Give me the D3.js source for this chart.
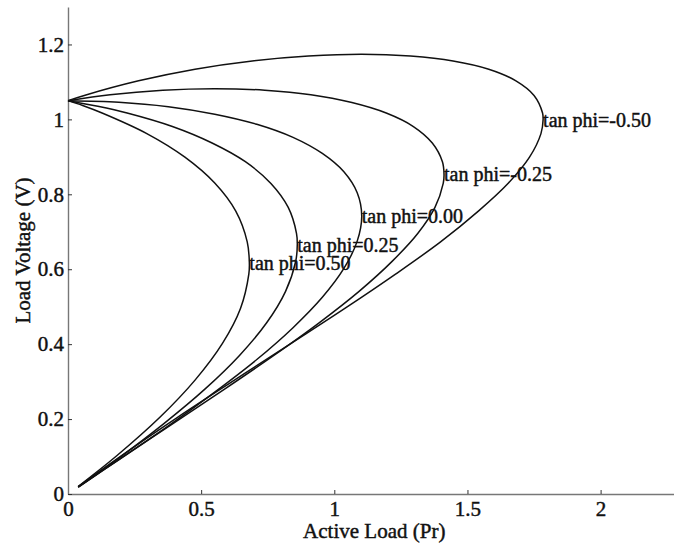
<!DOCTYPE html>
<html>
<head>
<meta charset="utf-8">
<script src="https://cdn.jsdelivr.net/npm/d3@7"></script>
<style>
  body { margin: 0; background: #fff; }
  svg text { font-family: "Liberation Serif", "Times New Roman", serif; fill: #111; stroke: #111; stroke-width: 0.45px; }
</style>
</head>
<body>
<svg id="chart" width="674" height="544"></svg>
<script>
// PV (nose) curves, one per load power factor, points read as [P, V]
const tanPhi = [0.5, 0.25, 0, -0.25, -0.5];
const labelText = ["tan phi=0.50", "tan phi=0.25", "tan phi=0.00", "tan phi=-0.25", "tan phi=-0.50"];

const curveTan050 = [[0.038,0.020],[0.183,0.102],[0.344,0.204],[0.477,0.304],[0.580,0.402],[0.648,0.496],[0.679,0.587],[0.681,0.617],[0.673,0.673],[0.630,0.755],[0.551,0.830],[0.439,0.899],[0.296,0.962],[0.128,1.017],[0.055,1.037],[0,1.05]];
const curveTan025 = [[0.038,0.019],[0.187,0.094],[0.360,0.188],[0.514,0.280],[0.644,0.370],[0.746,0.457],[0.817,0.541],[0.855,0.621],[0.861,0.666],[0.858,0.696],[0.827,0.765],[0.762,0.829],[0.666,0.887],[0.541,0.937],[0.392,0.981],[0.222,1.017],[0.112,1.035],[0,1.05]];
const curveTan000 = [[0.038,0.018],[0.191,0.092],[0.377,0.182],[0.551,0.272],[0.709,0.359],[0.845,0.444],[0.955,0.525],[1.036,0.602],[1.086,0.675],[1.103,0.742],[1.086,0.804],[1.036,0.860],[0.955,0.909],[0.845,0.952],[0.709,0.987],[0.551,1.014],[0.377,1.034],[0.191,1.046],[0,1.05]];
const curveTanM025 = [[0.039,0.019],[0.196,0.094],[0.394,0.188],[0.588,0.280],[0.773,0.370],[0.943,0.457],[1.093,0.541],[1.217,0.621],[1.314,0.696],[1.378,0.765],[1.409,0.829],[1.412,0.853],[1.406,0.887],[1.368,0.937],[1.297,0.981],[1.195,1.017],[1.066,1.045],[0.912,1.066],[0.739,1.078],[0.551,1.082],[0.356,1.078],[0.158,1.066],[0,1.05]];
const curveTanM050 = [[0.039,0.020],[0.200,0.102],[0.410,0.204],[0.625,0.304],[0.838,0.402],[1.041,0.496],[1.230,0.587],[1.399,0.673],[1.541,0.755],[1.654,0.830],[1.733,0.899],[1.776,0.962],[1.784,0.999],[1.782,1.017],[1.750,1.064],[1.682,1.103],[1.580,1.134],[1.446,1.156],[1.286,1.169],[1.103,1.174],[0.903,1.169],[0.692,1.156],[0.477,1.134],[0.265,1.103],[0.061,1.064],[0,1.05]];

// label anchors = nose point of each curve
const noseP = [0.681, 0.861, 1.103, 1.412, 1.784];
const noseV = [0.617, 0.666, 0.742, 0.853, 0.999];

const xTicks = [0, 0.5, 1, 1.5, 2];
const yTicks = [0, 0.2, 0.4, 0.6, 0.8, 1, 1.2];

const curves = [curveTan050, curveTan025, curveTan000, curveTanM025, curveTanM050];

const svg = d3.select("#chart");
const x = d3.scaleLinear().domain([0, 2.3]).range([68, 680.5]);
const y = d3.scaleLinear().domain([0, 1.3]).range([494, 7]);

// axes (ticks point inward, no box)
const xAxis = svg.append("g")
  .attr("transform", "translate(0,494)")
  .call(d3.axisBottom(x).tickValues(xTicks).tickFormat(d3.format("")).tickSizeInner(-4).tickSizeOuter(0).tickPadding(7));
const yAxis = svg.append("g")
  .attr("transform", "translate(68,0)")
  .call(d3.axisLeft(y).tickValues(yTicks).tickFormat(d3.format("")).tickSizeInner(-4).tickSizeOuter(0).tickPadding(4));

[xAxis, yAxis].forEach(g => {
  g.select(".domain").attr("stroke", "#777").attr("stroke-width", 1.4);
  g.selectAll(".tick line").attr("stroke", "#333");
  g.selectAll("text").style("font-size", "21px").attr("fill", "#111");
});

// curves
const line = d3.line()
  .x(d => x(d[0]))
  .y(d => y(d[1]))
  .curve(d3.curveCatmullRom.alpha(0.5));

svg.append("g")
  .selectAll("path")
  .data(curves)
  .enter().append("path")
  .attr("d", line)
  .attr("fill", "none")
  .attr("stroke", "#111")
  .attr("stroke-width", 1.5);

// curve labels
svg.append("g")
  .selectAll("text")
  .data(tanPhi)
  .enter().append("text")
  .attr("x", (d, i) => x(noseP[i]))
  .attr("y", (d, i) => y(noseV[i]))
  .attr("dy", "0.35em")
  .style("font-size", "20px")
  .text((d, i) => labelText[i]);

// axis titles
svg.append("text")
  .attr("x", (x.range()[0] + x.range()[1]) / 2)
  .attr("y", 538)
  .attr("text-anchor", "middle")
  .style("font-size", "21px")
  .text("Active Load (Pr)");

svg.append("text")
  .attr("transform", `translate(23,${(y.range()[0] + y.range()[1]) / 2}) rotate(-90)`)
  .attr("text-anchor", "middle")
  .attr("dy", "0.35em")
  .style("font-size", "21px")
  .text("Load Voltage (V)");
</script>
</body>
</html>
